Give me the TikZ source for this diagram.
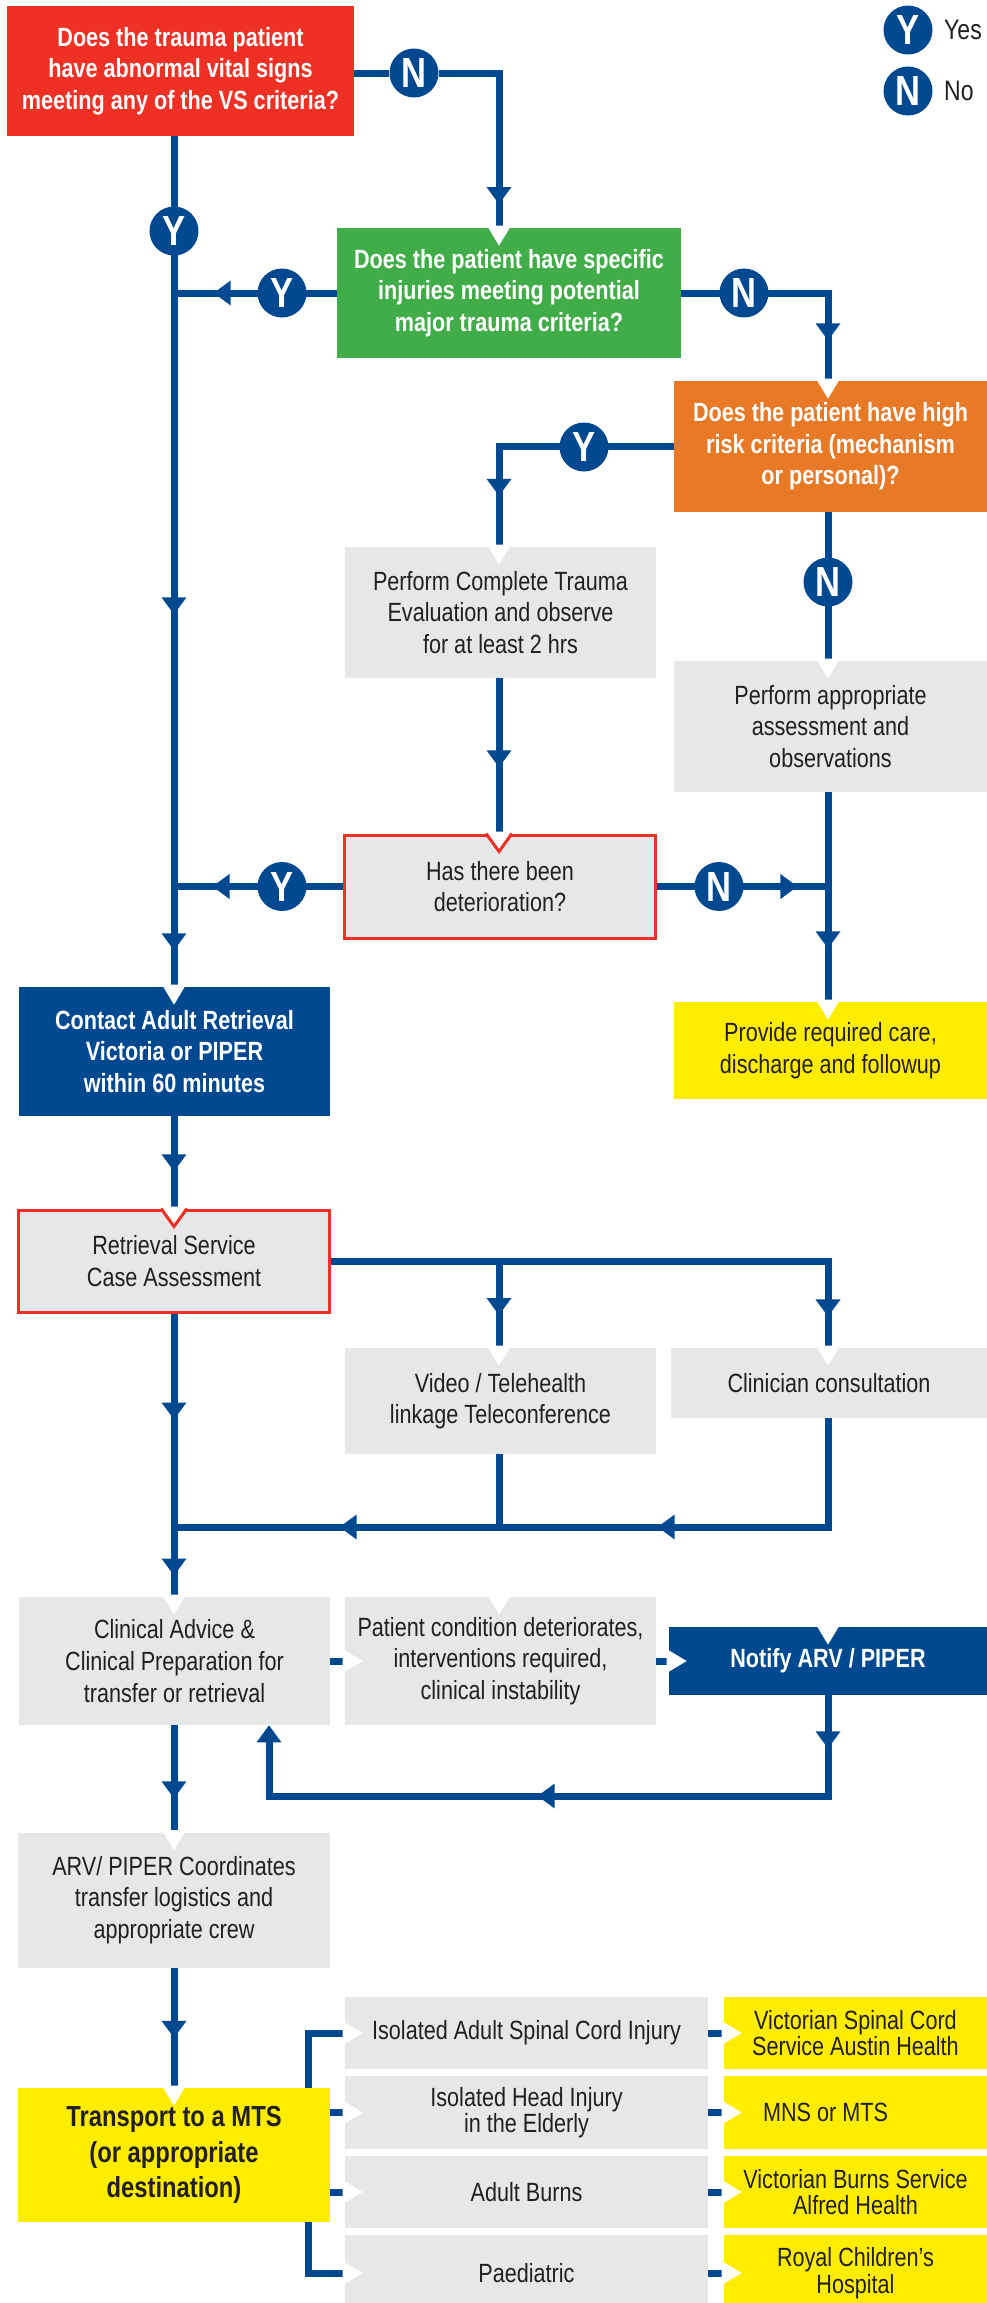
\documentclass[tikz,border=0pt]{standalone}
\usepackage{fontspec}
\setmainfont[FakeStretch=0.82]{Liberation Sans}
\usetikzlibrary{positioning,arrows.meta,decorations.markings}

\definecolor{navy}{RGB}{0,73,144}
\definecolor{qred}{RGB}{238,49,36}
\definecolor{qgreen}{RGB}{65,173,73}
\definecolor{qorange}{RGB}{232,121,39}
\definecolor{boxgrey}{RGB}{230,231,232}
\definecolor{qyellow}{RGB}{255,237,0}
\definecolor{ink}{RGB}{35,31,32}

\newcommand{\flowfont}{\fontsize{15}{18}\selectfont}
\newcommand{\rowfont}{\fontsize{15}{15}\selectfont}

\pgfdeclarelayer{bg}
\pgfsetlayers{bg,main}

\tikzset{
  box/.style={rectangle, inner sep=0pt, align=center, font=\flowfont, text=ink, fill=boxgrey},
  qbox/.style={box, text=white, font=\flowfont\bfseries},
  redrim/.style={box, draw=qred, line width=0.06cm},
  rowbox/.style={box, font=\rowfont},
  yn/.style={circle, fill=navy, text=white, inner sep=0pt, minimum size=0.98cm,
    font=\fontsize{24}{24}\selectfont\bfseries},
  wire/.style={draw=navy, line width=0.14cm},
  arw/.style={postaction={decorate, decoration={markings,
      mark=at position #1*0.02cm with {\arrow{Triangle[width=0.5cm,length=0.34cm,line width=0pt]}}}}},
  notchd/.pic={\fill[white] (-12,-2) -- (12,-2) -- (0,18) -- cycle;},
  notchr/.pic={\fill[white] (-2,-12) -- (-2,12) -- (18,0) -- cycle;},
  notchv/.pic={\fill[white] (-12,-2) -- (12,-2) -- (0,18) -- cycle;
    \draw[qred, line width=0.06cm] (-13,0) -- (0,18) -- (13,0);},
}

\begin{document}
\begin{tikzpicture}[x=0.02cm, y=-0.02cm]
    \useasboundingbox (0,0) rectangle (987,2303);

    % Columns and turning points
    \coordinate (colA) at (174,0);
    \coordinate (colB) at (499,0);
    \coordinate (colC) at (828,0);
    \coordinate (fork) at (308,0);
    \coordinate (loopx) at (269,0);
    \coordinate (ret) at (0,1527);
    \coordinate (loop) at (0,1796);

    % Questions
    \node[qbox, fill=qred, minimum width=6.94cm, minimum height=2.6cm] (q1) at (180.5,71)
        {Does the trauma patient\\have abnormal vital signs\\meeting any of the VS criteria?};
    \node[qbox, fill=qgreen, minimum width=6.88cm, minimum height=2.6cm] (q2) at (509,293)
        {Does the patient have specific\\injuries meeting potential\\major trauma criteria?};
    \node[qbox, fill=qorange, minimum width=6.26cm, minimum height=2.62cm] (q3) at (830.5,446.5)
        {Does the patient have high\\risk criteria (mechanism\\or personal)?};

    % Observation branch
    \node[box, minimum width=6.22cm, minimum height=2.62cm] (p1) at (500.5,612.5)
        {Perform Complete Trauma\\Evaluation and observe\\for at least 2 hrs};
    \node[box, minimum width=6.26cm, minimum height=2.62cm] (p2) at (830.5,726.5)
        {Perform appropriate\\assessment and\\observations};
    \node[redrim, minimum width=6.24cm, minimum height=2.06cm] (q4) at (500,886.5)
        {Has there been\\deterioration?};
    \node[box, fill=qyellow, minimum width=6.26cm, minimum height=1.94cm] (c1) at (830.5,1050.5)
        {Provide required care,\\discharge and followup};

    % Retrieval
    \node[qbox, fill=navy, minimum width=6.22cm, minimum height=2.58cm] (a1) at (174.5,1051.5)
        {Contact Adult Retrieval\\Victoria or PIPER\\within 60 minutes};
    \node[redrim, minimum width=6.24cm, minimum height=2.04cm] (a2) at (174,1261)
        {Retrieval Service\\Case Assessment};
    \node[box, minimum width=6.22cm, minimum height=2.12cm] (v1) at (500.5,1401)
        {Video / Telehealth\\linkage Teleconference};
    \node[box, minimum width=6.32cm, minimum height=1.4cm] (v2) at (829,1383)
        {Clinician consultation};

    % Advice and transfer
    \node[box, minimum width=6.22cm, minimum height=2.56cm] (b1) at (174.5,1661)
        {Clinical Advice \&\\Clinical Preparation for\\transfer or retrieval};
    \node[box, minimum width=6.22cm, minimum height=2.56cm] (b2) at (500.5,1661)
        {Patient condition deteriorates,\\interventions required,\\clinical instability};
    \node[qbox, fill=navy, minimum width=6.36cm, minimum height=1.36cm] (b3) at (828,1661)
        {Notify ARV / PIPER};
    \node[box, minimum width=6.24cm, minimum height=2.7cm] (d1) at (174,1900)
        {ARV/ PIPER Coordinates\\transfer logistics and\\appropriate crew};
    \node[box, fill=qyellow, minimum width=6.24cm, minimum height=2.68cm,
        font=\fontsize{16.5}{20.4}\selectfont\bfseries] (t1) at (174,2155)
        {Transport to a MTS\\(or appropriate\\destination)};

    % Destinations
    \node[rowbox, minimum width=7.26cm, minimum height=1.44cm] (r1) at (526.5,2033) {Isolated Adult Spinal Cord Injury};
    \node[rowbox, minimum width=7.26cm, minimum height=1.46cm] (r2) at (526.5,2112.5) {Isolated Head Injury\\in the Elderly};
    \node[rowbox, minimum width=7.26cm, minimum height=1.44cm] (r3) at (526.5,2192) {Adult Burns};
    \node[rowbox, minimum width=7.26cm, minimum height=1.52cm] (r4) at (526.5,2273) {Paediatric};
    \node[rowbox, fill=qyellow, minimum width=5.26cm, minimum height=1.44cm] (s1) at (855.5,2033) {Victorian Spinal Cord\\Service Austin Health};
    \node[rowbox, fill=qyellow, minimum width=5.26cm, minimum height=1.46cm] (s2) at (855.5,2112.5) {MNS or MTS\hspace{1.2cm}};
    \node[rowbox, fill=qyellow, minimum width=5.26cm, minimum height=1.44cm] (s3) at (855.5,2192) {Victorian Burns Service\\Alfred Health};
    \node[rowbox, fill=qyellow, minimum width=5.26cm, minimum height=1.52cm] (s4) at (855.5,2273) {Royal Children’s\\Hospital};

    % Yes / No markers
    \node[yn] (nA) at (414,73) {N};
    \node[yn] (yA) at (174,231) {Y};
    \node[yn] (yB) at (282,293) {Y};
    \node[yn] (nB) at (744,293) {N};
    \node[yn] (yC) at (584,447) {Y};
    \node[yn] (nC) at (828,582) {N};
    \node[yn] (yD) at (282,886.5) {Y};
    \node[yn] (nD) at (719,886.5) {N};

    % Legend
    \node[yn] (ly) at (908,30) {Y};
    \node[yn] (ln) at (908,91) {N};
    \node[right=0.22cm of ly, font=\fontsize{16}{18}\selectfont, text=ink, inner sep=0pt] (lyes) {Yes};
    \node[right=0.22cm of ln, font=\fontsize{16}{18}\selectfont, text=ink, inner sep=0pt] (lno) {No};

    % Connectors
    \begin{pgfonlayer}{bg}
        \draw[wire, arw=226] (q1.east |- nA) -- (nA) -| (q2.north -| colB);
        \draw[wire, arw=478, arw=814] (q1.south -| colA) -- (a1.north -| colA);
        \draw[wire, arw=123] (q2.west) -- (q2.west -| colA);
        \draw[wire, arw=194] (q2.east) -| (q3.north -| colC);
        \draw[wire, arw=224] (q3.west) -| (p1.north -| colB);
        \draw[wire] (q3.south -| colC) -- (p2.north -| colC);
        \draw[wire, arw=89] (p1.south -| colB) -- (q4.north -| colB);
        \draw[wire, arw=130] (q4.west) -- (q4.west -| colA);
        \draw[wire, arw=140] (q4.east) -- (q4.east -| colC);
        \draw[wire, arw=156] (p2.south -| colC) -- (c1.north -| colC);

        \draw[wire, arw=55] (a1.south -| colA) -- (a2.north -| colA);
        \draw[wire, arw=552] (a2.east) -| (v2.north -| colC);
        \draw[wire, arw=54] (a2.east -| colB) -- (v1.north -| colB);
        \draw[wire, arw=106, arw=262] (a2.south -| colA) -- (b1.north -| colA);
        \draw[wire, arw=279, arw=597] (v2.south -| colC) -- (colC |- ret) -- (colA |- ret);
        \draw[wire] (v1.south -| colB) -- (colB |- ret);

        \draw[wire] (b1.east) -- (b2.west);
        \draw[wire] (b2.east) -- (b3.west);
        \draw[wire, arw=53, arw=391, -{Triangle[width=0.5cm,length=0.34cm,line width=0pt]}]
            (b3.south -| colC) -- (colC |- loop) -- (loopx |- loop) -- (b1.south -| loopx);
        \draw[wire, arw=73] (b1.south -| colA) -- (d1.north -| colA);
        \draw[wire, arw=70] (d1.south -| colA) -- (t1.north -| colA);

        \draw[wire] (r1.west) -| (fork |- r4) -- (r4.west);
        \draw[wire] (t1.east |- r2) -- (r2.west);
        \draw[wire] (t1.east |- r3) -- (r3.west);
        \foreach \i in {1,2,3,4}
            \draw[wire] (r\i.east) -- (s\i.west);
    \end{pgfonlayer}

    % Entry notches
    \foreach \p in {q2.north -| colB, q3.north -| colC, p1.north -| colB, p2.north -| colC,
                    c1.north -| colC, a1.north -| colA, v1.north -| colB, v2.north -| colC,
                    b1.north -| colA, b2.north -| colB, b3.north -| colC, d1.north -| colA,
                    t1.north -| colA}
        \pic at (\p) {notchd};
    \pic at (q4.north -| colB) {notchv};
    \pic at (a2.north -| colA) {notchv};
    \foreach \p in {b2.west, b3.west, r1.west, r2.west, r3.west, r4.west,
                    s1.west, s2.west, s3.west, s4.west}
        \pic at (\p) {notchr};
\end{tikzpicture}
\end{document}
